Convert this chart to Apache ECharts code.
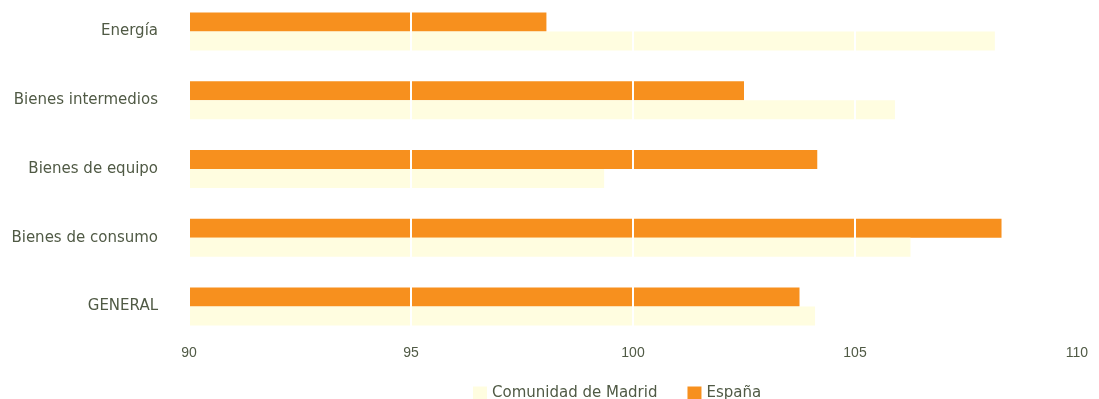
<!DOCTYPE html>
<html><head><meta charset="utf-8">
<script src="https://cdn.jsdelivr.net/npm/echarts@6/dist/echarts.min.js"></script>
<style>html,body{margin:0;padding:0;background:#fff;overflow:hidden}#c{position:absolute;left:0;top:-4px;width:1099px;height:403px}</style>
</head><body><div id="c"></div>
<script>
const categories = ["Energía","Bienes intermedios","Bienes de equipo","Bienes de consumo","GENERAL"];
const espana = [98.05, 102.5, 104.15, 108.3, 103.75];
const madrid = [108.15, 105.9, 99.35, 106.25, 104.1];
const xTicks = [90, 95, 100, 105, 110];

const chart = echarts.init(document.getElementById('c'));
const txt = '#505a45';
chart.setOption({
  animation: false,
  textStyle: {fontFamily: 'Liberation Sans, Arial, sans-serif'},
  grid: {left: 189, right: 22, top: 1, height: 344, containLabel: false},
  legend: {
    data: ['Comunidad de Madrid', 'España'],
    left: 468, top: 385, itemWidth: 14, itemHeight: 14, itemGap: 30,
    icon: 'rect',
    textStyle: {color: txt, fontSize: 15, fontFamily: 'DejaVu Sans, sans-serif'}
  },
  xAxis: {
    type: 'value', min: xTicks[0], max: xTicks[xTicks.length-1], interval: 5,
    z: 5,
    axisLine: {show: false}, axisTick: {show: false},
    splitLine: {show: true, lineStyle: {color: '#ffffff', width: 2}},
    axisLabel: {color: txt, fontSize: 14, margin: 5}
  },
  yAxis: {
    type: 'category', data: categories, inverse: true,
    axisLine: {show: false}, axisTick: {show: false},
    axisLabel: {color: txt, fontSize: 15, margin: 31, fontFamily: 'DejaVu Sans, sans-serif', padding: [2, 0, 0, 0]}
  },
  series: [
    {name: 'España', type: 'bar', data: espana, barWidth: 19, barGap: '0%',
     itemStyle: {color: '#f7901e'}},
    {name: 'Comunidad de Madrid', type: 'bar', data: madrid, barWidth: 19, barGap: '0%',
     itemStyle: {color: '#fffde0'}}
  ]
});
</script></body></html>
